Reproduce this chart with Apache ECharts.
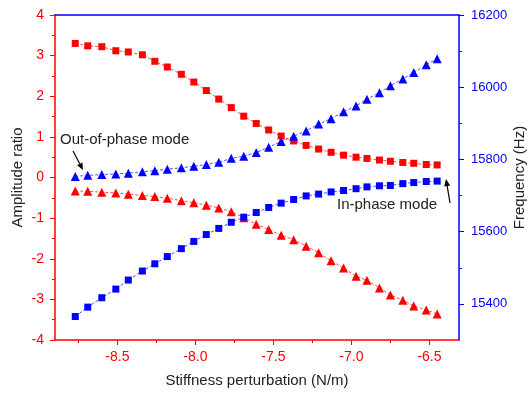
<!DOCTYPE html>
<html>
<head>
<meta charset="utf-8">
<script src="https://cdn.jsdelivr.net/npm/echarts@6/dist/echarts.min.js"></script>
<style>
  html, body { margin: 0; padding: 0; background: #fff; }
  #chart { width: 531px; height: 396px; }
</style>
</head>
<body>
<div id="chart"></div>
<script>
// stiffness perturbation (N/m)
const stiffness = [-8.77, -8.69, -8.60, -8.51, -8.43, -8.34, -8.26, -8.18, -8.09, -8.01,
  -7.93, -7.85, -7.77, -7.69, -7.61, -7.53, -7.45, -7.37, -7.29, -7.21,
  -7.13, -7.05, -6.97, -6.90, -6.82, -6.75, -6.67, -6.60, -6.52, -6.45]

// amplitude ratio (left axis)
const ampSquare = [3.30, 3.24, 3.22, 3.12, 3.09, 3.02, 2.86, 2.72, 2.54, 2.35,
  2.14, 1.93, 1.72, 1.51, 1.33, 1.17, 1.02, 0.90, 0.79, 0.70,
  0.62, 0.55, 0.50, 0.47, 0.43, 0.40, 0.37, 0.35, 0.32, 0.31]
const ampTriangle = [-0.33, -0.34, -0.36, -0.38, -0.41, -0.44, -0.47, -0.51, -0.57, -0.62,
  -0.68, -0.75, -0.84, -0.99, -1.15, -1.28, -1.42, -1.53, -1.69, -1.85,
  -2.05, -2.23, -2.43, -2.53, -2.72, -2.89, -3.02, -3.16, -3.26, -3.36]

// frequency in Hz (right axis)
const freqSquare = [15365, 15391, 15417, 15441, 15466, 15491, 15511, 15531, 15553, 15573,
  15592, 15609, 15626, 15640, 15653, 15667, 15679, 15689, 15699, 15704,
  15710, 15714, 15719, 15724, 15727, 15728, 15733, 15736, 15739, 15740]
const freqTriangle = [15753, 15756, 15758, 15760, 15762, 15766, 15769, 15773, 15777, 15781,
  15786, 15792, 15803, 15809, 15819, 15834, 15850, 15864, 15879, 15898,
  15913, 15932, 15948, 15967, 15985, 16004, 16023, 16041, 16062, 16079]

const xTicks = [-8.5, -8.0, -7.5, -7.0, -6.5]
const xMinorTicks = [-8.75, -8.25, -7.75, -7.25, -6.75]
const freqTicks = [15400, 15600, 15800, 16000, 16200]
const freqMinorTicks = [15500, 15700, 15900, 16100]

const RED = '#ff0000'
const BLUE = '#0000ff'
const FONT = '"Liberation Sans", Arial, sans-serif'

const pairs = (ys) => stiffness.map((x, i) => [x, ys[i]])

// small arrow made of a line and a filled head
function arrow(x1, y1, x2, y2) {
  const a = Math.atan2(y2 - y1, x2 - x1)
  const len = 7, w = 3
  const bx = x2 - len * Math.cos(a), by = y2 - len * Math.sin(a)
  const px = -Math.sin(a) * w, py = Math.cos(a) * w
  return [
    { type: 'line', shape: { x1, y1, x2: bx, y2: by }, style: { stroke: '#000', lineWidth: 1.2 } },
    { type: 'polygon', shape: { points: [[x2, y2], [bx + px, by + py], [bx - px, by - py]] }, style: { fill: '#000' } },
  ]
}

const chart = echarts.init(document.getElementById('chart'))

const xBase = { type: 'value', min: -8.9, max: -6.31, splitLine: { show: false } }
const freqBase = { type: 'value', min: 15300, max: 16200, splitLine: { show: false } }

chart.setOption({
  animation: false,
  textStyle: { fontFamily: FONT },
  grid: { left: 55, right: 72, top: 15, bottom: 56, outerBoundsMode: 'none', containLabel: false },
  xAxis: [
    {
      ...xBase,
      position: 'bottom',
      name: 'Stiffness perturbation (N/m)',
      nameLocation: 'middle',
      nameGap: 33,
      nameMoveOverlap: false,
      nameTextStyle: { color: '#222', fontSize: 15, fontFamily: FONT },
      axisLine: { onZero: false, lineStyle: { color: RED, width: 1.5 } },
      axisTick: { customValues: xTicks, length: 5, lineStyle: { color: RED } },
      axisLabel: {
        customValues: xTicks, color: RED, fontSize: 14, margin: 10, fontFamily: FONT,
        formatter: (v) => v.toFixed(1),
      },
    },
    {
      ...xBase,
      position: 'bottom',
      axisLine: { show: false, onZero: false },
      axisTick: { customValues: xMinorTicks, length: 3, lineStyle: { color: RED } },
      axisLabel: { show: false },
    },
    {
      ...xBase,
      position: 'top',
      axisLine: { onZero: false, lineStyle: { color: BLUE, width: 1.5 } },
      axisTick: { show: false },
      axisLabel: { show: false },
    },
  ],
  yAxis: [
    {
      type: 'value', min: -4, max: 4, interval: 1, position: 'left',
      name: 'Amplitude ratio',
      nameLocation: 'middle',
      nameGap: 30,
      nameMoveOverlap: false,
      nameTextStyle: { color: '#222', fontSize: 15, fontFamily: FONT },
      axisLine: { show: true, onZero: false, lineStyle: { color: RED, width: 1.5 } },
      axisTick: { show: true, length: 5, lineStyle: { color: RED } },
      minorTick: { show: true, splitNumber: 2, length: 3, lineStyle: { color: RED } },
      axisLabel: { color: RED, fontSize: 14, margin: 11, fontFamily: FONT },
      splitLine: { show: false },
    },
    {
      ...freqBase,
      position: 'right',
      name: 'Frequency (Hz)',
      nameLocation: 'middle',
      nameGap: 53,
      nameRotate: 90,
      nameMoveOverlap: false,
      nameTextStyle: { color: '#222', fontSize: 15, fontFamily: FONT },
      axisLine: { show: true, onZero: false, lineStyle: { color: BLUE, width: 1.5 } },
      axisTick: { show: true, customValues: freqTicks, length: 5, lineStyle: { color: BLUE } },
      axisLabel: {
        customValues: freqTicks, color: BLUE, fontSize: 13, margin: 12, fontFamily: FONT,
        formatter: (v) => String(v),
      },
    },
    {
      ...freqBase,
      position: 'right',
      axisLine: { show: false, onZero: false },
      axisTick: { show: true, customValues: freqMinorTicks, length: 3, lineStyle: { color: BLUE } },
      axisLabel: { show: false },
    },
  ],
  series: [
    {
      type: 'line', xAxisIndex: 0, yAxisIndex: 0, data: pairs(ampTriangle),
      symbol: 'triangle', symbolSize: 9,
      itemStyle: { color: RED },
      lineStyle: { color: 'rgba(255,0,0,0.7)', width: 1, type: [3, 2] },
    },
    {
      type: 'line', xAxisIndex: 0, yAxisIndex: 0, data: pairs(ampSquare),
      symbol: 'rect', symbolSize: 7,
      itemStyle: { color: RED },
      lineStyle: { color: 'rgba(255,0,0,0.7)', width: 1, type: [3, 2] },
    },
    {
      type: 'line', xAxisIndex: 0, yAxisIndex: 1, data: pairs(freqTriangle),
      symbol: 'triangle', symbolSize: 9,
      itemStyle: { color: BLUE },
      lineStyle: { color: 'rgba(0,0,255,0.7)', width: 1, type: [3, 2] },
    },
    {
      type: 'line', xAxisIndex: 0, yAxisIndex: 1, data: pairs(freqSquare),
      symbol: 'rect', symbolSize: 7,
      itemStyle: { color: BLUE },
      lineStyle: { color: 'rgba(0,0,255,0.7)', width: 1, type: [3, 2] },
    },
  ],
  graphic: [
    { type: 'text', left: 60, top: 132, style: { text: 'Out-of-phase mode', fill: '#222', font: '15px ' + FONT } },
    ...arrow(73, 151, 83, 170),
    { type: 'text', left: 337, top: 197, style: { text: 'In-phase mode', fill: '#222', font: '15px ' + FONT } },
    ...arrow(450, 203, 446, 179),
  ],
})
</script>
</body>
</html>
